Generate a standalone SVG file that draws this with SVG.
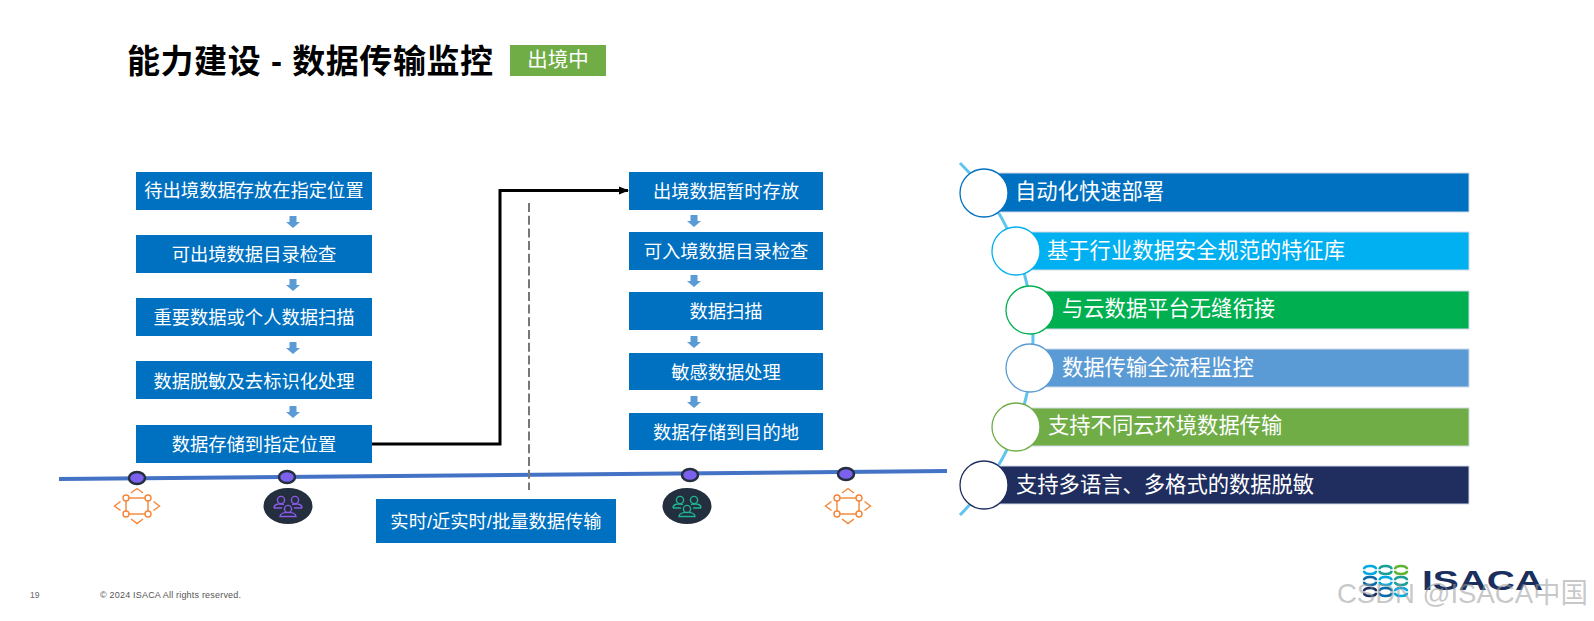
<svg xmlns="http://www.w3.org/2000/svg" width="1594" height="621" viewBox="0 0 1594 621">
<style>
text{font-family:"Liberation Sans","Noto Sans CJK SC",sans-serif}
.w{fill:#fff;text-anchor:middle}
.b{fill:#0070c0}
.t{font-size:18.3px}
.r{font-size:21.3px;fill:#fff}
.c{fill:#fff;stroke-width:1.3}
.e{stroke:#cfd8e6;stroke-width:1}
.d{fill:#5b9bd5}
.o{fill:none;stroke:#f58536;stroke-width:1.4}
.p{fill:#7b61ee;stroke:#232f3e;stroke-width:2.5}
.u{fill:none;stroke-width:1.4}
</style>
<defs>
<marker id="ah" markerUnits="userSpaceOnUse" markerWidth="10" markerHeight="10" refX="9" refY="5" orient="auto"><path d="M0 1L10 5L0 9Z" fill="#000"/></marker>
<path id="da" d="M-3.5 -6H3.5V0H7L0 6L-7 0H-3.5Z"/>
<g id="oi"><path d="M-6 -13L0 -17.500L6 -13M-6 13L0 17.500L6 13M-16.500 -4.500L-22.500 0L-16.500 4.500M16.500 -4.500L22.500 0L16.500 4.500"/><rect x="-11" y="-8" width="22" height="16"/><circle cx="-11" cy="-8" r="3" fill="#fff"/><circle cx="11" cy="-8" r="3" fill="#fff"/><circle cx="-11" cy="8" r="3" fill="#fff"/><circle cx="11" cy="8" r="3" fill="#fff"/></g>
<g id="ui"><circle cx="-7" cy="-6" r="3.6"/><circle cx="7" cy="-6" r="3.6"/><path d="M-14 2C-14 -3 -8 -2 -4 -1.500M14 2C14 -3 8 -2 4 -1.500M-14 2H-6M14 2H6"/><circle cx="0" cy="3" r="3.6"/><path d="M-8 10.500C-8 5 8 5 8 10.500Z"/></g>
<g id="ring" fill="none" stroke-width="2.6"><path d="M-6 -0.800Q-6 -4 0 -4Q6 -4 6 -0.800"/><path d="M-6 0.800Q-6 4 0 4Q6 4 6 0.800"/></g>
</defs>

<g id="title"><text x="127" y="73" font-size="33" font-weight="bold" fill="#000" textLength="366">能力建设 - 数据传输监控</text></g>
<g id="tag"><rect x="510" y="45" width="96" height="31" fill="#70ad47"/><text x="558" y="67" class="w" font-size="20.500">出境中</text></g>

<g id="timeline"><path d="M59 479L947 471" stroke="#4472c4" stroke-width="4" fill="none"/></g>

<g id="connectors">
<path d="M372 444H500V190.500H628" fill="none" stroke="#000" stroke-width="3" marker-end="url(#ah)"/>
<path d="M529 203V490" fill="none" stroke="#777" stroke-width="2" stroke-dasharray="9 3.700"/>
<path d="M960 163A248.700 248.700 0 0 1 960 515" fill="none" stroke="#5fc4ee" stroke-width="3"/>
</g>

<g id="L1"><rect class="b" x="136" y="172" width="236" height="38"/><text class="w t" x="254" y="197">待出境数据存放在指定位置</text></g>
<g id="L2"><rect class="b" x="136" y="235" width="236" height="38"/><text class="w t" x="254" y="261">可出境数据目录检查</text></g>
<g id="L3"><rect class="b" x="136" y="298" width="236" height="38"/><text class="w t" x="254" y="324">重要数据或个人数据扫描</text></g>
<g id="L4"><rect class="b" x="136" y="361" width="236" height="38"/><text class="w t" x="254" y="388">数据脱敏及去标识化处理</text></g>
<g id="L5"><rect class="b" x="136" y="425" width="236" height="38"/><text class="w t" x="254" y="451">数据存储到指定位置</text></g>
<g id="left-arrows"><use href="#da" class="d" x="293" y="222"/><use href="#da" class="d" x="293" y="285"/><use href="#da" class="d" x="293" y="348"/><use href="#da" class="d" x="293" y="412"/></g>

<g id="M1"><rect class="b" x="629" y="172" width="194" height="38"/><text class="w t" x="726" y="198">出境数据暂时存放</text></g>
<g id="M2"><rect class="b" x="629" y="232" width="194" height="38"/><text class="w t" x="726" y="258">可入境数据目录检查</text></g>
<g id="M3"><rect class="b" x="629" y="292" width="194" height="38"/><text class="w t" x="726" y="318">数据扫描</text></g>
<g id="M4"><rect class="b" x="629" y="353" width="194" height="37"/><text class="w t" x="726" y="379">敏感数据处理</text></g>
<g id="M5"><rect class="b" x="629" y="413" width="194" height="37"/><text class="w t" x="726" y="439">数据存储到目的地</text></g>
<g id="mid-arrows"><use href="#da" class="d" x="694" y="221"/><use href="#da" class="d" x="694" y="281"/><use href="#da" class="d" x="694" y="342"/><use href="#da" class="d" x="694" y="402"/></g>

<g id="transfer"><rect class="b" x="376" y="499" width="240" height="44"/><text class="w t" x="496" y="528">实时/近实时/批量数据传输</text></g>

<g id="n1"><ellipse class="p" cx="137" cy="478" rx="8" ry="6"/><use href="#oi" class="o" x="137" y="506"/></g>
<g id="n2"><ellipse class="p" cx="287" cy="477" rx="8" ry="6"/><ellipse cx="288" cy="506" rx="24.500" ry="18" fill="#232f3e"/><use href="#ui" class="u" stroke="#8c5ae8" x="288" y="506"/></g>
<g id="n3"><ellipse class="p" cx="690" cy="475" rx="8" ry="6"/><ellipse cx="687" cy="506" rx="24.500" ry="18" fill="#232f3e"/><use href="#ui" class="u" stroke="#1fb592" x="687" y="506"/></g>
<g id="n4"><ellipse class="p" cx="846" cy="474" rx="8" ry="6"/><use href="#oi" class="o" x="848" y="506"/></g>

<g id="R1"><rect class="e" x="984" y="173" width="485" height="39" fill="#0070c0"/><circle class="c" cx="984" cy="193" r="24" stroke="#0070c0"/><text class="r" x="1015" y="199">自动化快速部署</text></g>
<g id="R2"><rect class="e" x="1016" y="232" width="453" height="38" fill="#00b0f0"/><circle class="c" cx="1016" cy="251" r="24" stroke="#00b0f0"/><text class="r" x="1047" y="258">基于行业数据安全规范的特征库</text></g>
<g id="R3"><rect class="e" x="1030" y="291" width="439" height="38" fill="#00b050"/><circle class="c" cx="1030" cy="310" r="24" stroke="#00b050"/><text class="r" x="1062" y="316">与云数据平台无缝衔接</text></g>
<g id="R4"><rect class="e" x="1030" y="349" width="439" height="38" fill="#5b9bd5"/><circle class="c" cx="1030" cy="368" r="24" stroke="#5b9bd5"/><text class="r" x="1062" y="375">数据传输全流程监控</text></g>
<g id="R5"><rect class="e" x="1016" y="408" width="453" height="38" fill="#70ad47"/><circle class="c" cx="1016" cy="427" r="24" stroke="#70ad47"/><text class="r" x="1048" y="433">支持不同云环境数据传输</text></g>
<g id="R6"><rect class="e" x="984" y="466" width="485" height="38" fill="#1f2d5f"/><circle class="c" cx="984" cy="485" r="24" stroke="#1f2d5f"/><text class="r" x="1016" y="492">支持多语言、多格式的数据脱敏</text></g>

<g id="footer"><text x="30" y="598" font-size="8.500" fill="#666">19</text><text x="100" y="598" font-size="9" fill="#555" textLength="141">© 2024 ISACA  All rights reserved.</text></g>

<g id="logo">
<use href="#ring" stroke="#00a9e0" x="1370" y="570"/><use href="#ring" stroke="#1a9e96" x="1385.500" y="570"/><use href="#ring" stroke="#5cb531" x="1401" y="570"/>
<use href="#ring" stroke="#0a6aa8" x="1370" y="581"/><use href="#ring" stroke="#00a9e0" x="1385.500" y="581"/><use href="#ring" stroke="#1a9e96" x="1401" y="581"/>
<use href="#ring" stroke="#1b2f5e" x="1370" y="592"/><use href="#ring" stroke="#0a6aa8" x="1385.500" y="592"/><use href="#ring" stroke="#00a9e0" x="1401" y="592"/>
<text x="1422" y="590" font-size="28" font-weight="bold" fill="#1b2f5e" textLength="121" lengthAdjust="spacingAndGlyphs">ISACA</text>
</g>
<g id="watermark"><text x="1337" y="603" font-size="28" fill="#999" fill-opacity=".55" textLength="251" lengthAdjust="spacingAndGlyphs">CSDN @ISACA中国</text></g>
</svg>
